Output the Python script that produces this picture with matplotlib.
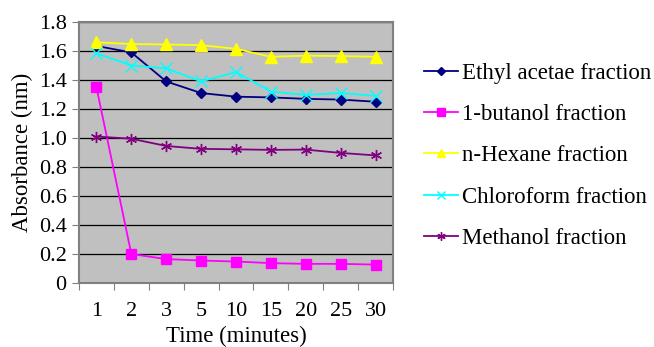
import matplotlib
matplotlib.use("Agg")
import matplotlib.pyplot as plt
import numpy as np

times = ["1", "2", "3", "5", "10", "15", "20", "25", "30"]
ethyl = [1.635, 1.59, 1.39, 1.31, 1.285, 1.28, 1.27, 1.265, 1.25]
butanol = [1.35, 0.20, 0.165, 0.155, 0.148, 0.137, 0.132, 0.132, 0.127]
hexane = [1.66, 1.648, 1.645, 1.64, 1.615, 1.56, 1.568, 1.565, 1.56]
chloroform = [1.584, 1.50, 1.48, 1.39, 1.455, 1.32, 1.297, 1.31, 1.29]
methanol = [1.01, 0.995, 0.945, 0.925, 0.922, 0.918, 0.92, 0.897, 0.88]

plt.rcParams['font.family'] = ['Liberation Serif', 'DejaVu Serif']

fig = plt.figure(figsize=(6.54, 3.47), dpi=100)
ax = fig.add_axes([79/654, 1 - 283/347, (393-79)/654, (283-22)/347])
ax.set_facecolor('#C0C0C0')

x = np.arange(len(times))
ax.plot(x, ethyl, color='#000080', marker='D', ms=5, lw=1.3, label='Ethyl acetae fraction')
ax.plot(x, butanol, color='#FF00FF', marker='s', ms=7, lw=1.3, label='1-butanol fraction')
ax.plot(x, hexane, color='#FFFF00', marker='^', ms=8, lw=1.3, label='n-Hexane fraction')
ax.plot(x, chloroform, color='#00FFFF', marker='x', ms=8, mew=1.0, lw=1.3, label='Chloroform fraction')
ax.plot(x, methanol, color='#800080', marker=(6, 2, 0), ms=8, mew=1.0, lw=1.3, label='Methanol fraction')

ax.set_xlim(-0.5, len(times) - 0.5)
ax.set_ylim(0, 1.8)
ax.set_yticks(np.arange(0, 1.81, 0.2))
ax.set_yticklabels(['0'] + [f"{v:.1f}" for v in np.arange(0.2, 1.81, 0.2)])
ax.yaxis.grid(True, color='black', lw=0.9)
ax.set_axisbelow(True)

ax.set_xticks(np.arange(-0.5, len(times), 1.0))
ax.set_xticklabels([])
ax.set_xticks(x, minor=True)
ax.set_xticklabels(times, minor=True)
ax.tick_params(axis='x', which='major', direction='out', length=5, color='#808080')
ax.tick_params(axis='x', which='minor', length=5, color=(0, 0, 0, 0), labelsize=16, pad=9)
ax.tick_params(axis='y', direction='out', length=5, color='#808080', labelsize=16, pad=4)

for s in ax.spines.values():
    s.set_color('#808080')
    s.set_linewidth(1.5)

ax.set_xlabel('Time (minutes)', fontsize=16.5, labelpad=3)
ax.set_ylabel('Absorbance (nm)', fontsize=16.5, labelpad=4)

leg = fig.legend(loc='upper left', bbox_to_anchor=(424/654, 1 - 63/347), frameon=False,
                 fontsize=16.5, handlelength=1.5, handletextpad=0.15, labelspacing=0.88,
                 borderpad=0, borderaxespad=0, markerscale=0.75)

fig.savefig('out.png', dpi=100)
